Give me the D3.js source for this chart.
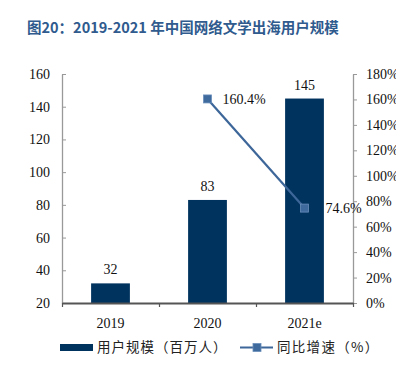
<!DOCTYPE html>
<html><head><meta charset="utf-8">
<script src="https://cdn.jsdelivr.net/npm/d3@7"></script>
<style>body{margin:0;background:#fff}svg{display:block}</style>
</head><body>
<svg id="c" width="396" height="382"></svg>
<script>
const title = "图20：2019-2021 年中国网络文学出海用户规模";
const categories = ["2019", "2020", "2021e"];
const users = [32, 83, 145];
const growthCats = ["2020", "2021e"];
const growth = [160.4, 74.6];
const leftTicks = [20, 40, 60, 80, 100, 120, 140, 160];
const rightTicks = [0, 20, 40, 60, 80, 100, 120, 140, 160, 180];
const legendLabels = ["用户规模（百万人）", "同比增速（%）"];

const svg = d3.select("#c");
const serif = "'Liberation Serif','Times New Roman',serif";
const cjk = "'Noto Sans CJK SC','Noto Sans',sans-serif";
const barColor = "#01335f", lineColor = "#3d6699";
const L = 62, R = 353, T = 74, B = 303;

svg.append("text").attr("x", 27).attr("y", 33).text(title)
  .attr("font-family", cjk).attr("font-weight", "bold").attr("font-size", 14.5).attr("fill", "#2f5b8e");

const x = d3.scaleBand().domain(categories).range([L, R]).paddingInner(0.6).paddingOuter(0.3);
const yL = d3.scaleLinear().domain([20, 160]).range([B, T]);
const yR = d3.scaleLinear().domain([0, 180]).range([B, T]);

// bars
svg.selectAll("rect.bar").data(users).join("rect").attr("class", "bar")
  .attr("x", (d, i) => x(categories[i])).attr("width", x.bandwidth())
  .attr("y", d => yL(d)).attr("height", d => B - yL(d)).attr("fill", barColor);
svg.selectAll("text.bl").data(users).join("text").attr("class", "bl")
  .attr("x", (d, i) => x(categories[i]) + x.bandwidth() / 2).attr("y", d => yL(d) - 9)
  .attr("text-anchor", "middle").attr("font-family", serif).attr("font-size", 14).attr("fill", "#111").text(d => d);

// left axis
const gl = svg.append("g").attr("transform", `translate(${L},0)`)
  .call(d3.axisLeft(yL).tickValues(leftTicks).tickSize(-4).tickPadding(12).tickSizeOuter(0));
gl.select(".domain").attr("stroke", "#999").attr("stroke-width", 1.3);
gl.selectAll(".tick line").attr("stroke", "#999");
gl.selectAll(".tick text").attr("font-family", serif).attr("font-size", 14).attr("fill", "#111");

// right axis
const gr = svg.append("g").attr("transform", `translate(${R},0)`)
  .call(d3.axisRight(yR).tickValues(rightTicks).tickSize(4).tickPadding(9).tickSizeOuter(0).tickFormat(d => d + "%"));
gr.select(".domain").attr("stroke", "#999").attr("stroke-width", 1.3);
gr.selectAll(".tick line").attr("stroke", "#999");
gr.selectAll(".tick text").attr("font-family", serif).attr("font-size", 14).attr("fill", "#111");

// x axis
const xb = d3.scalePoint().domain(d3.range(categories.length + 1)).range([L, R]);
const gx = svg.append("g").attr("transform", `translate(0,${B})`);
gx.call(d3.axisBottom(xb).tickSize(4).tickFormat("").tickSizeOuter(0));
gx.select(".domain").attr("stroke", "#555").attr("stroke-width", 2);
gx.selectAll(".tick line").attr("stroke", "#555").attr("stroke-width", 1.2);
svg.selectAll("text.xl").data(categories).join("text").attr("class", "xl")
  .attr("x", d => x(d) + x.bandwidth() / 2).attr("y", B + 25).attr("text-anchor", "middle")
  .attr("font-family", serif).attr("font-size", 14).attr("fill", "#111").text(d => d);

// line
const pts = growth.map((v, i) => [x(growthCats[i]) + x.bandwidth() / 2, yR(v)]);
svg.append("path").attr("d", d3.line()(pts)).attr("fill", "none").attr("stroke", lineColor).attr("stroke-width", 2.2);
svg.selectAll("rect.mk").data(pts).join("rect").attr("class", "mk")
  .attr("x", d => d[0] - 4).attr("y", d => d[1] - 4).attr("width", 8).attr("height", 8)
  .attr("fill", "#3f6a9d").attr("stroke", "#6a8fbb").attr("stroke-width", 0.8);
svg.selectAll("text.ll").data(growth).join("text").attr("class", "ll")
  .attr("x", (d, i) => pts[i][0] + 15 + i * 6).attr("y", (d, i) => pts[i][1] + 5)
  .attr("font-family", serif).attr("font-size", 14).attr("fill", "#111").text(d => d.toFixed(1) + "%");

// legend
svg.append("rect").attr("x", 60).attr("y", 344).attr("width", 33).attr("height", 7).attr("fill", barColor);
svg.append("text").attr("x", 97).attr("y", 352).text(legendLabels[0])
  .attr("font-family", cjk).attr("font-size", 13.5).attr("letter-spacing", 1).attr("fill", "#222");
svg.append("line").attr("x1", 240).attr("x2", 273).attr("y1", 347.5).attr("y2", 347.5).attr("stroke", lineColor).attr("stroke-width", 2.2);
svg.append("rect").attr("x", 253).attr("y", 343.5).attr("width", 8).attr("height", 8).attr("fill", "#3f6a9d").attr("stroke", "#6a8fbb").attr("stroke-width", 0.8);
svg.append("text").attr("x", 277).attr("y", 352).text(legendLabels[1])
  .attr("font-family", cjk).attr("font-size", 13.5).attr("letter-spacing", 1.3).attr("fill", "#222");
</script>
</body></html>
